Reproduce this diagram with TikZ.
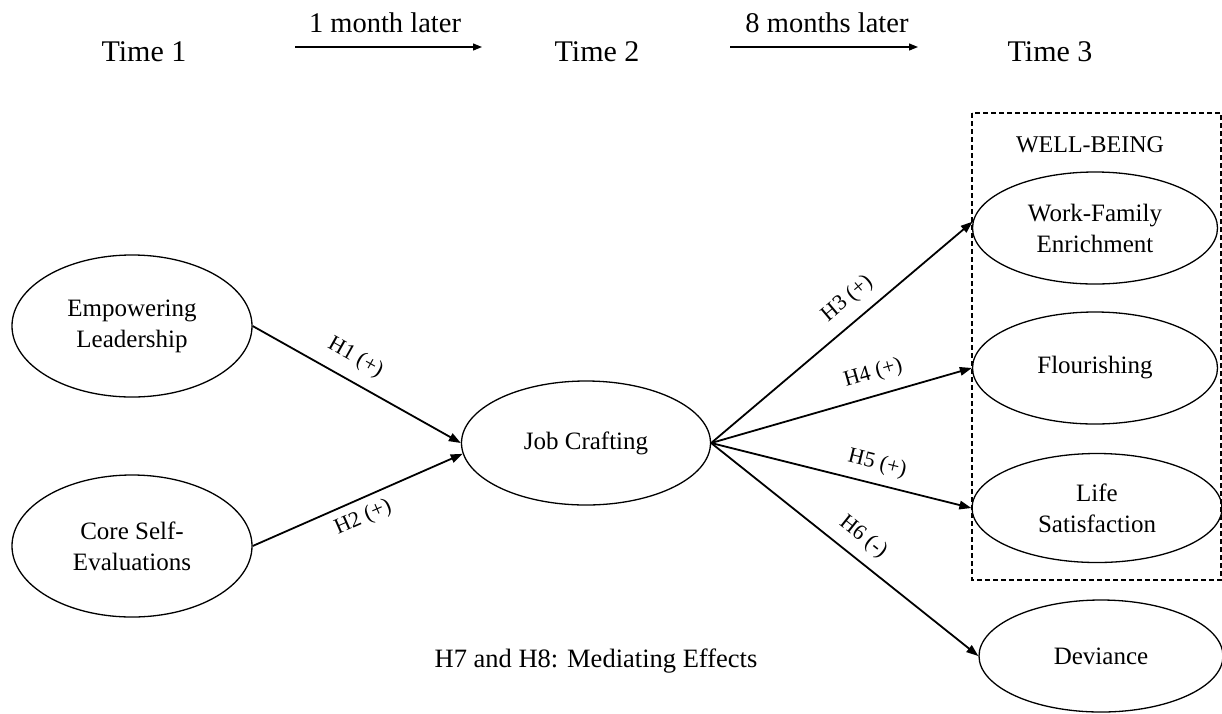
\documentclass[tikz,border=0pt]{standalone}
\usepackage{fontspec}
\setmainfont{Liberation Serif}
\usetikzlibrary{shapes.geometric,arrows.meta,calc}

\begin{document}
\begin{tikzpicture}[x=1pt,y=-1pt,
  construct/.style={ellipse, draw, line width=1.3pt, inner sep=0pt, align=center,
    font=\fontsize{25}{31}\selectfont},
  hyparrow/.style={line width=1.8pt, -{Triangle[length=12pt,width=8.5pt]}},
  hyplabel/.style={sloped, inner sep=2pt, font=\fontsize{22}{26}\selectfont},
  timearrow/.style={line width=1.2pt, -{Triangle[length=9pt,width=7pt]}},
  timelabel/.style={font=\fontsize{30}{36}\selectfont, anchor=base},
  laglabel/.style={font=\fontsize{28.5}{34}\selectfont, anchor=base},
  groupbox/.style={draw, line width=1.6pt, dash pattern=on 5pt off 3pt},
]
\useasboundingbox (0,0) rectangle (1222,713);

% time line
\node[timelabel] (t1) at (144,61) {Time 1};
\node[timelabel] (t2) at (597,61) {Time 2};
\node[timelabel] (t3) at (1050,61) {Time 3};
\coordinate (lag1s) at (295,47);
\coordinate (lag1e) at (482,47);
\coordinate (lag2s) at (730,47);
\coordinate (lag2e) at (918,47);
\draw[timearrow] (lag1s) -- (lag1e);
\draw[timearrow] (lag2s) -- (lag2e);
\node[laglabel] (lag1) at (385,32) {1 month later};
\node[laglabel] (lag2) at (827,32) {8 months later};

% well-being group
\draw[groupbox] (972,113) rectangle (1221,580);
\node[font=\fontsize{24}{28}\selectfont, anchor=base] (wb) at (1090,152) {WELL-BEING};

% constructs
\node[construct, minimum width=240pt, minimum height=142pt] (emp) at (132,326) {Empowering\\Leadership};
\node[construct, minimum width=240pt, minimum height=142pt] (cse) at (132,546) {Core Self-\\Evaluations};
\node[construct, minimum width=249pt, minimum height=124pt] (jc) at (586,443) {Job Crafting};
\node[construct, minimum width=245pt, minimum height=112pt] (wfe) at (1095,228) {Work-Family\\Enrichment};
\node[construct, minimum width=245pt, minimum height=112pt] (flo) at (1095,368) {Flourishing};
\node[construct, minimum width=250pt, minimum height=109pt] (ls) at (1097,508) {Life\\Satisfaction};
\node[construct, minimum width=244pt, minimum height=112pt] (dev) at (1101,656) {Deviance};

% hypothesised paths
\draw[hyparrow] (emp.east) -- node[hyplabel, above=10pt, pos=0.44] (h1) {H1 (+)} (jc.west);
\draw[hyparrow] (cse.east) -- node[hyplabel, below=6pt, pos=0.49] (h2) {H2 (+)} (jc.185);
\draw[hyparrow] (jc.east) -- node[hyplabel, above=9pt, pos=0.575] (h3) {H3 (+)} (wfe.177);
\draw[hyparrow] (jc.east) -- node[hyplabel, above=9pt, pos=0.645] (h4) {H4 (+)} (flo.west);
\draw[hyparrow] (jc.east) -- node[hyplabel, above=7pt, pos=0.62] (h5) {H5 (+)} (ls.west);
\draw[hyparrow] (jc.east) -- node[hyplabel, above=8pt, pos=0.52] (h6) {H6 (-)} (dev.west);

\node[font=\fontsize{26.5}{30}\selectfont, anchor=base] (med) at (596,667) {H7 and H8: Mediating Effects};
\end{tikzpicture}
\end{document}
